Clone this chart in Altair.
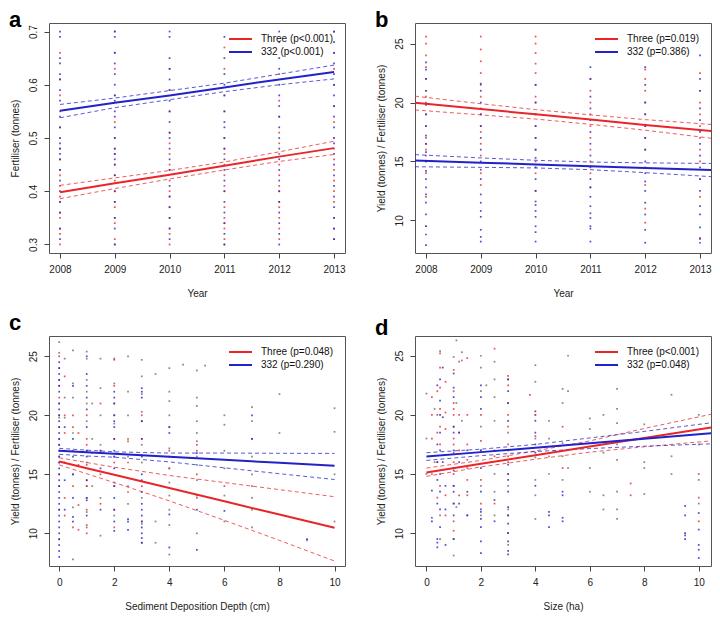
import altair as alt
import pandas as pd

RED = "#e8262a"
BLUE = "#2222c8"
GRAY = "#6a6a6a"
FONT = "Liberation Sans"

W, H = 296, 230

# ---------------- panel a : Fertiliser (tonnes) by year ----------------
years = [2008, 2009, 2010, 2011, 2012, 2013]
a_red = [
    [0.30, 0.32, 0.33, 0.35, 0.36, 0.38, 0.39, 0.41, 0.43, 0.44, 0.46, 0.48, 0.50, 0.52, 0.55, 0.58, 0.61, 0.66],
    [0.30, 0.31, 0.34, 0.35, 0.37, 0.38, 0.40, 0.42, 0.43, 0.45, 0.47, 0.48, 0.50, 0.53, 0.58, 0.63, 0.66, 0.70],
    [0.30, 0.32, 0.33, 0.35, 0.37, 0.39, 0.40, 0.42, 0.44, 0.45, 0.47, 0.49, 0.51, 0.55, 0.59, 0.63],
    [0.30, 0.31, 0.33, 0.34, 0.35, 0.37, 0.40, 0.41, 0.43, 0.45, 0.47, 0.48, 0.50, 0.55, 0.58, 0.63, 0.67],
    [0.31, 0.33, 0.35, 0.37, 0.38, 0.40, 0.41, 0.43, 0.45, 0.47, 0.49, 0.51, 0.54, 0.57, 0.62],
    [0.31, 0.33, 0.35, 0.38, 0.40, 0.42, 0.44, 0.46, 0.48, 0.50, 0.53, 0.56, 0.60, 0.63, 0.66, 0.70],
]
a_blue = [
    [0.31, 0.33, 0.36, 0.38, 0.40, 0.42, 0.44, 0.46, 0.47, 0.48, 0.49, 0.50, 0.52, 0.54, 0.57, 0.59, 0.61, 0.62, 0.64, 0.65, 0.69, 0.70],
    [0.30, 0.33, 0.35, 0.38, 0.40, 0.43, 0.45, 0.46, 0.47, 0.48, 0.50, 0.52, 0.54, 0.55, 0.57, 0.58, 0.60, 0.62, 0.64, 0.66, 0.69, 0.70],
    [0.31, 0.33, 0.35, 0.37, 0.39, 0.41, 0.44, 0.46, 0.48, 0.50, 0.51, 0.53, 0.55, 0.57, 0.59, 0.61, 0.63, 0.65, 0.69, 0.70],
    [0.30, 0.32, 0.34, 0.36, 0.38, 0.40, 0.42, 0.44, 0.46, 0.48, 0.50, 0.52, 0.53, 0.55, 0.58, 0.60, 0.62, 0.65, 0.69],
    [0.30, 0.32, 0.34, 0.36, 0.38, 0.40, 0.42, 0.44, 0.46, 0.48, 0.50, 0.52, 0.54, 0.56, 0.58, 0.60, 0.63, 0.65, 0.68, 0.70],
    [0.31, 0.33, 0.35, 0.37, 0.39, 0.41, 0.43, 0.45, 0.47, 0.49, 0.50, 0.52, 0.54, 0.56, 0.58, 0.60, 0.62, 0.64, 0.66, 0.68, 0.70],
]
a_red_fit = [0.398, 0.415, 0.431, 0.448, 0.465, 0.481]
a_red_hi = [0.411, 0.425, 0.439, 0.455, 0.474, 0.494]
a_red_lo = [0.386, 0.405, 0.423, 0.440, 0.456, 0.469]
a_blue_fit = [0.551, 0.566, 0.580, 0.595, 0.610, 0.624]
a_blue_hi = [0.563, 0.575, 0.589, 0.603, 0.620, 0.637]
a_blue_lo = [0.538, 0.557, 0.572, 0.587, 0.600, 0.611]

# ---------------- panel b : Yield / Fertiliser by year ----------------
b_red = [
    [9.5, 12, 14, 15, 15.5, 16, 16.5, 17, 18, 19, 20, 20.5, 21, 22, 23, 24, 25, 25.6],
    [13, 14, 15.5, 16.5, 17.5, 18, 19, 19.5, 20.5, 21.5, 22.5, 23.5, 24.5, 25.6],
    [12.5, 14, 15, 16, 17, 18, 19, 20, 20.5, 21.5, 22.5, 23.3, 24.2, 25, 25.6],
    [12.8, 14, 15, 16, 17, 18, 19, 20, 21, 22],
    [9.8, 11, 13, 14.5, 16, 17, 18, 19, 20, 21, 22, 22.8],
    [8.4, 12, 13.5, 15, 16, 17, 18, 19, 20, 21, 22.5],
]
b_blue = [
    [7.9, 8.8, 9.5, 10.5, 11.5, 12.2, 12.8, 13.5, 14.2, 15, 15.8, 16.5, 17.2, 18, 19, 19.8, 21, 22, 22.8, 23.4],
    [8.2, 8.6, 9.2, 10.3, 10.8, 11.5, 12.2, 13.5, 14.3, 15, 16, 17, 18, 19, 20, 21, 21.6],
    [8.2, 9, 9.5, 10.3, 10.8, 11.3, 11.6, 12.5, 13.5, 14.5, 15.3, 16, 17, 18, 19, 20, 21.5],
    [8.2, 9.3, 9.5, 10.2, 10.6, 11.2, 12, 12.8, 13.5, 14.5, 15.5, 16.5, 17.5, 18.5, 19.5, 20.5, 22, 23],
    [8.1, 9.2, 10.5, 11.5, 12.5, 13.3, 14, 15, 16, 17, 18, 19, 20, 21.5, 23],
    [8.1, 8.5, 9.4, 10.5, 11.2, 12.5, 13.5, 14.5, 15.5, 16.5, 17.5, 18.5, 19.5, 21, 22, 24],
]
b_x = [2007.8, 2009, 2010, 2011, 2012, 2013.2]
b_red_fit = [19.98, 19.45, 19.0, 18.55, 18.1, 17.59]
b_red_hi = [20.54, 19.9, 19.4, 18.95, 18.55, 18.14]
b_red_lo = [19.37, 18.95, 18.6, 18.15, 17.65, 16.97]
b_blue_fit = [15.08, 14.9, 14.75, 14.6, 14.45, 14.27]
b_blue_hi = [15.58, 15.3, 15.1, 14.95, 14.88, 14.83]
b_blue_lo = [14.55, 14.5, 14.45, 14.3, 14.05, 13.71]

# ---------------- panel c : by sediment deposition depth ----------------
c_red = [
    (0, [9.5, 12, 14, 15, 16, 16.5, 17, 17.5, 18, 19, 20, 21.5, 22.5, 24, 25]),
    (0.2, [11.5, 13, 16, 18.5, 20, 23.3]),
    (0.5, [10.5, 14, 17, 19, 20]),
    (0.7, [10.3, 12.4, 15.8, 18.5]),
    (1, [10, 10.7, 12, 14, 14.5, 15.8, 17.5, 18, 20]),
    (1.5, [12.5, 15, 17, 21]),
    (2, [10.5, 12, 14, 16, 18, 20, 22.5, 24.8]),
    (2.5, [13.5, 16, 17.8]),
    (3, [11, 14, 16.6, 18, 19.5, 20]),
    (4, [15.5, 17]),
    (5, [13, 15, 17, 17.5]),
    (6, [14]),
]
c_blue = [
    (0, [8, 8.5, 9, 9.5, 10, 10.5, 11, 11.5, 12, 12.5, 13, 13.5, 14, 14.5, 15, 15.5, 16, 16.5, 17, 17.5,
         18, 18.5, 19, 19.5, 20, 20.5, 21, 22, 22.5, 23, 23.5, 24, 24.5]),
    (0.2, [12, 14.5, 17, 19]),
    (0.5, [11, 11.4, 13, 15, 16.5, 18, 22.5]),
    (1, [11.5, 12.8, 13, 14.5, 16.5, 17, 19, 20.5, 21.5, 22.5, 23.5, 25]),
    (1.5, [12, 15.5, 17]),
    (2, [10.2, 11, 12, 13, 14, 15.5, 16.5, 17, 18, 19, 19.5, 20, 21, 21.5, 22]),
    (2.5, [10.3, 11, 11.2]),
    (3, [9.2, 9.6, 10, 10.5, 11, 11.5, 12, 12.5, 13.5, 14.5, 15, 16.5, 18, 19.5, 21.5, 22, 22.3]),
    (4, [8.8, 11.6, 18.5, 19]),
    (5, [8.6, 12, 16.8]),
    (6, [11.9]),
    (7, [18, 20]),
    (9, [9.5]),
]
c_gray = [
    (0, [26.2, 25.3, 23, 21, 19.8]),
    (0.2, [19.8, 24.8, 21.5]),
    (0.5, [25.5, 22.7, 21.5, 18.5, 15, 12.2, 7.8]),
    (1, [25.4, 24.8, 23, 22, 21, 19.5, 17, 16, 14, 13, 11.8, 10.5]),
    (1.2, [21, 18, 16.8, 14]),
    (1.5, [24.8, 22.3, 20, 17.5, 13, 9.8]),
    (2, [24.7, 22.7, 21, 19.3, 16.5, 14.3, 11.5]),
    (2.5, [25, 22, 20, 18, 16.5, 14, 12.5]),
    (3, [24.7, 23.3, 21.8, 20.3, 17.5, 16, 13, 10.8, 9.2]),
    (3.5, [23.5, 11, 9.2]),
    (4, [24, 22, 21.2, 20, 19, 17.2, 16.5, 15.5, 14.3, 13.2, 12, 10.7, 8.2]),
    (4.5, [24.3]),
    (5, [23.8, 21.5, 20.8, 19.5, 18.5, 17.8, 16.5, 15.8, 14.5, 13.2, 10]),
    (5.3, [24.2]),
    (6, [20, 19.2, 17, 15.5, 13.2, 11]),
    (7, [20.7, 19.5, 18, 16.5, 15, 14, 13, 12, 10.5]),
    (8, [21.8, 18.5]),
    (9, [9.4]),
    (10, [20.6, 18.6, 15, 11]),
]
c_x = [0, 1, 2, 4, 6, 8, 10]
c_red_fit = [16.08, 15.52, 14.96, 13.84, 12.71, 11.59, 10.47]
c_red_hi = [16.4, 16.0, 15.6, 14.9, 14.3, 13.7, 13.1]
c_red_lo = [15.8, 15.05, 14.3, 12.75, 11.1, 9.4, 7.65]
c_blue_fit = [16.99, 16.86, 16.74, 16.48, 16.23, 15.97, 15.72]
c_blue_hi = [17.2, 17.05, 16.9, 16.8, 16.8, 16.78, 16.77]
c_blue_lo = [16.7, 16.55, 16.45, 16.05, 15.55, 15.05, 14.56]

# ---------------- panel d : by size (ha) ----------------
d_red = [
    (0.2, [15, 18, 20, 21.5]),
    (0.4, [13, 16, 18.5, 20, 22]),
    (0.5, [14, 17.5, 19, 20.5, 22.3, 24, 25.2]),
    (0.7, [11.5, 13.2, 18.8, 20.2, 22.8]),
    (1, [10.2, 11, 12.5, 14, 15, 15.5, 16, 16.8, 17.5, 18, 19, 20, 20.5, 21, 22, 23.8]),
    (1.2, [13.2, 17, 18.5, 20, 24.5]),
    (1.5, [11.5, 13.2, 14.5, 15.5, 16.2, 17.5, 20, 24.8]),
    (2, [12.5, 14.5, 17.8, 20]),
    (2.5, [12.5, 16.5, 25.6]),
    (3, [10, 11.5, 15, 16.5, 17.5, 19, 20, 22.5, 23.3]),
    (3.8, [21.7]),
    (4, [18.2, 20]),
    (5, [15.5, 19]),
    (7.5, [13.2, 14.2]),
    (10, [11, 13, 15]),
]
d_blue = [
    (0.2, [11, 11.3, 13.6]),
    (0.4, [8.8, 9.2, 9.5, 12.5, 14.5, 16, 17.5, 22.5]),
    (0.5, [10.5, 12, 13.5, 15, 17, 18.5, 20, 21.2, 23]),
    (0.6, [16, 19.8, 24]),
    (0.7, [9, 12, 14]),
    (1, [9.5, 11.5, 12.5, 13.5, 14, 15.3, 17, 18.5, 19, 21.5, 22.3, 23.5]),
    (1.2, [12.5, 16, 18.5]),
    (1.5, [11.5, 13.5, 17]),
    (2, [8.3, 9.3, 10.5, 11.2, 11.8, 12, 13.5, 15.5, 17, 20.5, 21.5, 22.5]),
    (2.5, [12.8, 11]),
    (3, [8.2, 8.5, 9.3, 10, 10.8, 11.5, 12.2, 13.5, 14.5, 15, 15.8, 17, 19.5, 21, 22, 23]),
    (4, [14, 16.8, 17.5, 18.5, 19.5, 20.3]),
    (4.5, [10.5, 11.5, 11.8]),
    (5, [11, 11.3, 13.2, 13.5]),
    (9.5, [9.5, 9.8, 10, 11.5, 12.3]),
    (10, [7.9, 8.6, 9, 10.3, 11.7]),
]
d_gray = [
    (0, [15, 18, 21.8]),
    (0.3, [20.5, 16]),
    (0.5, [25.4, 11.5, 9.5]),
    (1, [24.9, 8.1, 9.5]),
    (1.1, [26.3, 21, 12.2]),
    (1.3, [25.3, 24.6, 19.5]),
    (2, [24, 25, 22, 19, 17, 14, 11.5]),
    (2.2, [22.5]),
    (2.5, [24.5, 23, 21.5, 19.5, 17, 15, 13.5, 11.5]),
    (3, [23, 21, 18.5, 16, 14, 12, 9]),
    (4, [24.2, 22.8, 20, 18, 16.4, 14.5, 13.2, 11.2]),
    (4.5, [19.5, 18, 16.5, 15]),
    (5, [22.2, 21, 17.6, 16.5, 14.5]),
    (5.2, [25, 22, 15.5]),
    (6, [19.7, 18.8, 15.5, 13.5]),
    (6.5, [20, 16.8, 13.2, 12]),
    (7, [22.2, 20.5, 19.3, 17.5, 16.2, 13.5, 12, 11.2]),
    (8, [19.2, 16, 15.5, 13.3]),
    (9, [21.7, 16.5, 15]),
    (10, [20, 17.5, 14.5, 12.5]),
]
d_x = [0, 2, 4, 6, 8, 10.45]
d_red_fit = [15.13, 15.86, 16.59, 17.32, 18.05, 18.94]
d_red_hi = [15.5, 16.15, 16.95, 17.8, 18.85, 20.05]
d_red_lo = [14.8, 15.6, 16.25, 16.85, 17.3, 17.8]
d_blue_fit = [16.47, 16.85, 17.22, 17.6, 17.98, 18.44]
d_blue_hi = [16.8, 17.1, 17.5, 18.05, 18.6, 19.33]
d_blue_lo = [16.15, 16.55, 16.9, 17.15, 17.35, 17.55]

legend_a = ["Three (p<0.001)", "332 (p<0.001)"]
legend_b = ["Three (p=0.019)", "332 (p=0.386)"]
legend_c = ["Three (p=0.048)", "332 (p=0.290)"]
legend_d = ["Three (p<0.001)", "332 (p=0.048)"]


def year_points(red, blue):
    rows = []
    for yr, vals in zip(years, red):
        rows += [{"x": yr, "y": v, "g": "red"} for v in vals]
    for yr, vals in zip(years, blue):
        rows += [{"x": yr, "y": v, "g": "blue"} for v in vals]
    return pd.DataFrame(rows)


def col_points(groups):
    rows = []
    for g, cols in groups:
        for x, vals in cols:
            rows += [{"x": x, "y": v, "g": g} for v in vals]
    return pd.DataFrame(rows)


def line_table(xs, series):
    rows = []
    for g, k, ys in series:
        rows += [{"x": x, "y": y, "g": g, "k": k} for x, y in zip(xs, ys)]
    return pd.DataFrame(rows)


CSCALE = alt.Scale(domain=["red", "blue", "gray"], range=[RED, BLUE, GRAY])
ONE = pd.DataFrame({"v": [0]})


def panel(pts, lines, xdom, ydom, xticks, yticks, xfmt, yfmt, xtitle, ytitle,
          letter, letter_y, labels):
    xenc = alt.X("x:Q", scale=alt.Scale(domain=xdom, nice=False, zero=False),
                 axis=alt.Axis(values=xticks, format=xfmt, labelFlush=False, labelOverlap=False),
                 title=xtitle)
    yenc = alt.Y("y:Q", scale=alt.Scale(domain=ydom, nice=False, zero=False),
                 axis=alt.Axis(values=yticks, format=yfmt, labelAngle=270, labelAlign="center",
                               labelBaseline="bottom", labelFlush=False, labelOverlap=False),
                 title=ytitle)
    col = alt.Color("g:N", scale=CSCALE, legend=None)
    pts_l = alt.Chart(pts).mark_square(size=3, opacity=0.8).encode(x=xenc, y=yenc, color=col)
    ci = alt.Chart(lines).transform_filter("datum.k != 'fit'").mark_line(
        strokeWidth=1, strokeDash=[4, 3], opacity=0.75, clip=True
    ).encode(x=xenc, y=yenc, color=col, detail="k:N")
    fit = alt.Chart(lines).transform_filter("datum.k == 'fit'").mark_line(
        strokeWidth=2, clip=True
    ).encode(x=xenc, y=yenc, color=col, detail="k:N")
    leg = []
    for i, (lab, c) in enumerate(zip(labels, [RED, BLUE])):
        yy = 16 + 13 * i
        leg.append(alt.Chart(ONE).mark_rule(color=c, strokeWidth=2).encode(
            x=alt.value(180), x2=alt.value(203), y=alt.value(yy)))
        leg.append(alt.Chart(ONE).mark_text(text=lab, align="left", baseline="middle",
                                            fontSize=10, font=FONT, color="#111").encode(
            x=alt.value(212), y=alt.value(yy)))
    let = alt.Chart(ONE).mark_text(text=letter, align="left", baseline="alphabetic",
                                   fontSize=22, fontWeight="bold", font=FONT, color="#000").encode(
        x=alt.value(-40), y=alt.value(letter_y))
    return alt.layer(pts_l, ci, fit, *leg, let).properties(width=W, height=H)


pa = panel(
    year_points(a_red, a_blue),
    line_table(years, [("red", "fit", a_red_fit), ("red", "hi", a_red_hi), ("red", "lo", a_red_lo),
                       ("blue", "fit", a_blue_fit), ("blue", "hi", a_blue_hi), ("blue", "lo", a_blue_lo)]),
    [2007.8, 2013.2], [0.284, 0.716], years, [0.3, 0.4, 0.5, 0.6, 0.7], "d", ".1f",
    "Year", "Fertiliser (tonnes)", "a", 4, legend_a)

pb = panel(
    year_points(b_red, b_blue),
    line_table(b_x, [("red", "fit", b_red_fit), ("red", "hi", b_red_hi), ("red", "lo", b_red_lo),
                     ("blue", "fit", b_blue_fit), ("blue", "hi", b_blue_hi), ("blue", "lo", b_blue_lo)]),
    [2007.8, 2013.2], [7.23, 26.75], years, [10, 15, 20, 25], "d", "d",
    "Year", "Yield (tonnes) / Fertiliser (tonnes)", "b", 4, legend_b)

pc = panel(
    col_points([("gray", c_gray), ("red", c_red), ("blue", c_blue)]),
    line_table(c_x, [("red", "fit", c_red_fit), ("red", "hi", c_red_hi), ("red", "lo", c_red_lo),
                     ("blue", "fit", c_blue_fit), ("blue", "hi", c_blue_hi), ("blue", "lo", c_blue_lo)]),
    [-0.37, 10.38], [7.23, 26.72], [0, 2, 4, 6, 8, 10], [10, 15, 20, 25], "d", "d",
    "Sediment Deposition Depth (cm)", "Yield (tonnes) / Fertiliser (tonnes)", "c", -6, legend_c)

pd_ = panel(
    col_points([("gray", d_gray), ("red", d_red), ("blue", d_blue)]),
    line_table(d_x, [("red", "fit", d_red_fit), ("red", "hi", d_red_hi), ("red", "lo", d_red_lo),
                     ("blue", "fit", d_blue_fit), ("blue", "hi", d_blue_hi), ("blue", "lo", d_blue_lo)]),
    [-0.42, 10.45], [7.22, 26.67], [0, 2, 4, 6, 8, 10], [10, 15, 20, 25], "d", "d",
    "Size (ha)", "Yield (tonnes) / Fertiliser (tonnes)", "d", -1, legend_d)

chart = alt.concat(
    pa, pb, pc, pd_, columns=2, spacing={"row": 83, "column": 70}, bounds="flush"
).properties(
    padding={"left": 0, "top": 0, "right": 0, "bottom": 0}
).configure_view(
    stroke="#555555", strokeWidth=1
).configure_axis(
    labelFont=FONT, titleFont=FONT, labelFontSize=10, titleFontSize=10,
    titleFontWeight="normal", labelColor="#222222", titleColor="#222222",
    tickColor="#444444", tickSize=5, grid=False, domain=False
).configure_axisX(
    labelPadding=6, titlePadding=14
).configure_axisY(
    labelPadding=6, titlePadding=8
)

chart.save("out.html", embed_options={"renderer": "svg", "actions": False})
